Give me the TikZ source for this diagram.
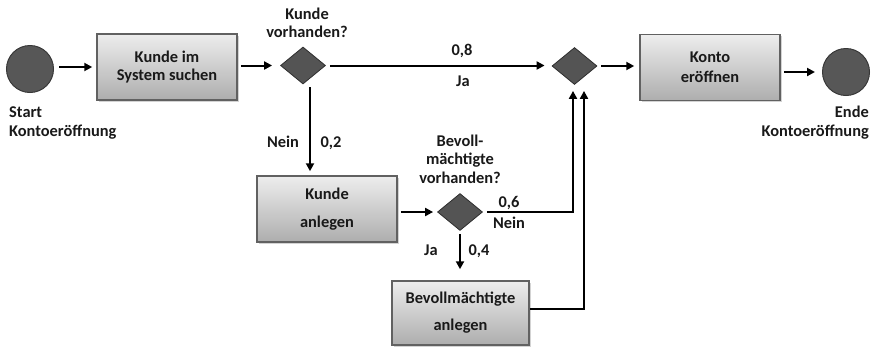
\documentclass[tikz,border=0pt]{standalone}
\usepackage{fontspec}
\setmainfont{Carlito}
\usetikzlibrary{shapes.geometric,arrows.meta,shadows}
\begin{document}
\begin{tikzpicture}[x=1pt,y=-1pt,
  every node/.style={font=\fontsize{16.4}{18.5}\selectfont\bfseries, text=black!90},
  endpoint/.style={circle, draw=black!78, line width=1pt, fill=black!66,
    minimum size=47pt, inner sep=0pt},
  task/.style={rectangle, draw=black!62, line width=1.5pt,
    top color=black!7, bottom color=black!32, minimum width=140pt,
    minimum height=66pt, align=center, inner sep=0pt,
    drop shadow={shadow xshift=1.5pt, shadow yshift=-1.5pt, opacity=0.35}},
  gateway/.style={diamond, draw=black!82, line width=0.8pt, fill=black!67,
    minimum width=45pt, minimum height=37pt, inner sep=0pt},
  flow/.style={line width=2pt, -{Triangle[length=8pt,width=8pt]}},
  lbl/.style={inner sep=0pt, align=center, anchor=base}
]
\useasboundingbox (0,0) rectangle (872,346);

% events, tasks and gateways
\node[endpoint] (start) at (30,69) {};
\node[task] (suche) at (167,67) {Kunde im\\System suchen};
\node[gateway] (d1) at (303,65.5) {};
\node[gateway] (d2) at (574.5,66) {};
\node[task] (konto) at (710,67.5) {Konto\\[1.5pt]eröffnen};
\node[endpoint] (ende) at (846,72) {};
\node[task] (anlegen) at (327,209) {Kunde\\[9.5pt]anlegen};
\node[gateway] (d3) at (460,212) {};
\node[task, minimum width=137pt, minimum height=64pt] (bevoll) at (460.5,313)
  {Bevollmächtigte\\[8.5pt]anlegen};

% corners of the two return paths
\coordinate (ncorner) at (573,212);
\coordinate (bcorner) at (584,309);

% sequence flows
\draw[flow, shorten <=5pt, shorten >=4pt] (start.east |- suche.west) -- (suche.west);
\draw[flow, shorten <=3pt, shorten >=8pt] (suche.east |- d1.west) -- (d1.west);
\draw[flow, shorten <=4pt, shorten >=7pt] (d1.east) -- (d1.east -| d2.west);
\draw[flow, shorten <=4pt, shorten >=5pt] (d2.east) -- (d2.east -| konto.west);
\draw[flow, shorten <=3pt, shorten >=7pt] (konto.east |- ende.west) -- (ende.west);
\draw[flow, shorten <=3pt, shorten >=4pt]
  ([xshift=7pt]d1.south) -- ([xshift=7pt]d1.south |- anlegen.north);
\draw[flow, shorten <=3pt, shorten >=4pt] (anlegen.east |- d3.west) -- (d3.west);
\draw[flow, shorten <=4pt, shorten >=6pt] (d3.east) -- (ncorner) -- (d2.south -| ncorner);
\draw[flow, shorten <=3pt, shorten >=11pt] (d3.south) -- (d3.south |- bevoll.north);
\draw[flow, shorten >=6pt] (bevoll.east |- bcorner) -- (bcorner) -- (d2.south -| bcorner);

% labels (anchored at the baseline of their last line)
\node[lbl, align=left, anchor=base west] (startlbl) at (9,136) {Start\\Kontoeröffnung};
\node[lbl, align=right, anchor=base east] (endelbl) at (869,136) {Ende\\Kontoeröffnung};
\node[lbl] (q1) at (307,37.5) {Kunde\\vorhanden?};
\node[lbl] (p08) at (462,55) {0,8};
\node[lbl] (ja1) at (463,86) {Ja};
\node[lbl] (nein1) at (283,147) {Nein};
\node[lbl] (p02) at (331,147) {0,2};
\node[lbl] (q2) at (460,183) {Bevoll-\\mächtigte\\vorhanden?};
\node[lbl] (p06) at (509,207) {0,6};
\node[lbl] (nein2) at (509,228) {Nein};
\node[lbl] (ja2) at (431,255) {Ja};
\node[lbl] (p04) at (479,255) {0,4};
\end{tikzpicture}
\end{document}
